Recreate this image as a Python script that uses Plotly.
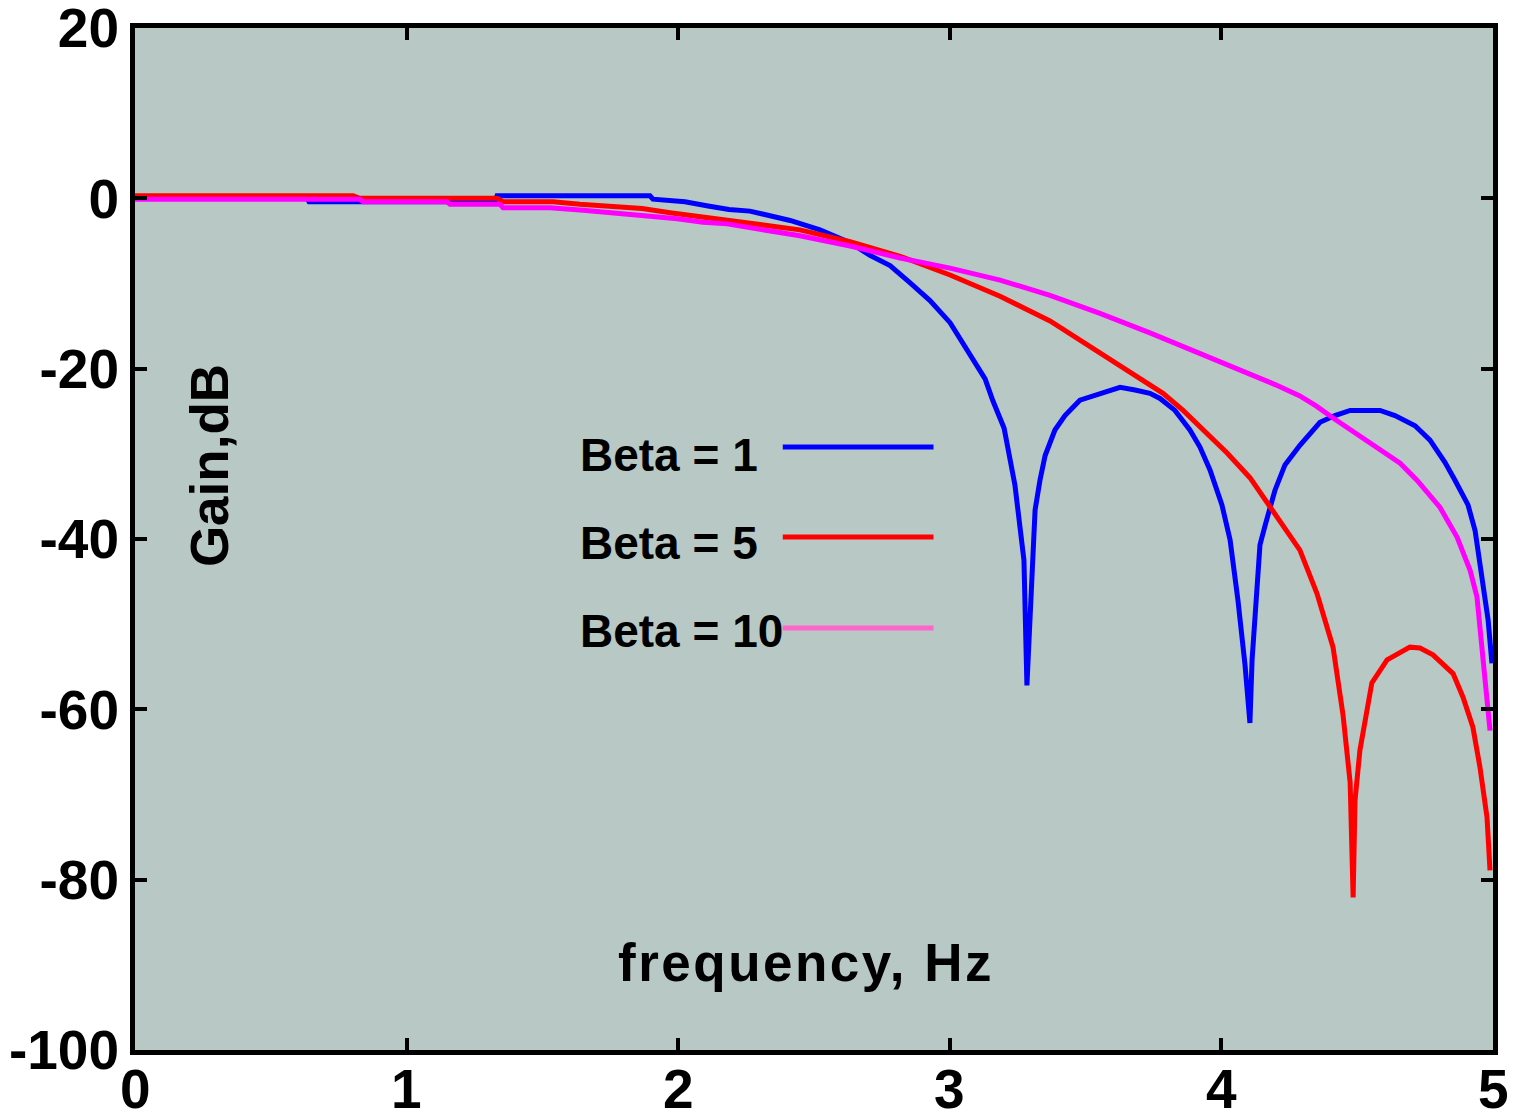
import plotly.graph_objects as go

# ---- data ----
beta1_f = [0, 0.633, 0.641, 1.325, 1.333, 1.896, 1.907, 2.025, 2.11, 2.187, 2.264, 2.301, 2.412, 2.522,
           2.633, 2.706, 2.780, 2.853, 2.927, 3.001, 3.085, 3.130, 3.159, 3.200, 3.240, 3.258, 3.273,
           3.284, 3.299, 3.314, 3.332, 3.351, 3.387, 3.424, 3.479, 3.553, 3.627, 3.682, 3.737, 3.774,
           3.829, 3.884, 3.921, 3.958, 4.002, 4.032, 4.061, 4.087, 4.105, 4.113, 4.124, 4.142, 4.161,
           4.197, 4.234, 4.289, 4.363, 4.418, 4.474, 4.584, 4.639, 4.713, 4.768, 4.823, 4.860, 4.908,
           4.934, 4.960, 4.982, 4.996]
beta1_db = [0, 0, -0.4, -0.4, 0.3, 0.3, -0.1, -0.4, -0.9, -1.3, -1.5, -1.8, -2.6, -3.7,
            -5.2, -6.7, -7.9, -9.9, -12.0, -14.6, -19.0, -21.2, -23.8, -27.0, -33.7, -38.4, -42.5,
            -57.2, -47.2, -36.6, -33.1, -30.2, -27.2, -25.5, -23.7, -22.9, -22.2, -22.5, -22.9, -23.5,
            -24.9, -27.2, -29.2, -31.9, -36.0, -40.1, -47.2, -54.8, -61.6, -54.2, -48.3, -40.7, -38.4,
            -34.3, -31.3, -29.0, -26.3, -25.5, -24.9, -24.9, -25.5, -26.7, -28.4, -31.0, -33.1, -36.0,
            -39.0, -44.3, -49.5, -54.6]

beta5_f = [0, 0.803, 0.828, 1.333, 1.355, 1.539, 1.638, 1.767, 1.867, 1.970, 2.069, 2.147, 2.228,
           2.448, 2.633, 2.817, 3.001, 3.185, 3.369, 3.590, 3.785, 3.859, 4.021, 4.105, 4.168, 4.227,
           4.289, 4.352, 4.411, 4.448, 4.474, 4.485, 4.492, 4.510, 4.536, 4.554, 4.610, 4.694, 4.731,
           4.779, 4.853, 4.890, 4.926, 4.952, 4.978, 4.989]
beta5_db = [0.3, 0.3, 0.0, 0.0, -0.4, -0.4, -0.7, -1.0, -1.2, -1.7, -2.1, -2.4, -2.8,
            -3.7, -5.1, -6.8, -9.0, -11.5, -14.4, -19.0, -22.9, -24.9, -29.9, -32.8, -35.8, -38.6,
            -41.3, -46.4, -52.7, -60.7, -68.6, -82.1, -70.7, -64.8, -60.1, -56.9, -54.2, -52.7, -52.8,
            -53.6, -55.8, -58.6, -62.1, -66.8, -72.7, -78.9]

beta10_f = [0, 0.828, 0.839, 1.149, 1.160, 1.344, 1.355, 1.528, 1.650, 1.775, 1.896, 1.996, 2.091,
            2.180, 2.264, 2.448, 2.633, 2.817, 3.001, 3.185, 3.369, 3.553, 3.737, 3.984, 4.10, 4.20,
            4.289, 4.35, 4.411, 4.536, 4.658, 4.720, 4.805, 4.868, 4.916, 4.941, 4.960, 4.978, 4.989]
beta10_db = [-0.1, -0.1, -0.4, -0.4, -0.7, -0.7, -1.1, -1.1, -1.4, -1.7, -2.1, -2.4, -2.8,
             -3.0, -3.4, -4.4, -5.6, -7.0, -8.2, -9.6, -11.4, -13.5, -15.8, -19.0, -20.6, -21.9,
             -23.2, -24.4, -25.8, -28.4, -31.1, -33.1, -36.3, -39.8, -43.7, -46.8, -52.7, -58.6, -62.5]

series_names = ["Beta = 1", "Beta = 5", "Beta = 10"]
x_ticks = [0, 1, 2, 3, 4, 5]
y_ticks = [-100, -80, -60, -40, -20, 0, 20]

FONT = "Liberation Sans, Arial, sans-serif"
BG = "#b8c8c4"

fig = go.Figure()
for fx, fy, col in [(beta1_f, beta1_db, "#0000ff"),
                    (beta5_f, beta5_db, "#ff0000"),
                    (beta10_f, beta10_db, "#ff00ff")]:
    fig.add_trace(go.Scatter(x=fx, y=fy, mode="lines",
                             line=dict(color=col, width=5), showlegend=False,
                             hoverinfo="skip"))

axis_common = dict(showgrid=False, zeroline=False, showline=True, linecolor="black",
                   linewidth=5, mirror="ticks", ticks="inside", ticklen=12, tickwidth=4,
                   tickcolor="black", automargin=False, ticklabeloverflow="allow",
                   tickfont=dict(family=FONT, size=55, color="black", weight="bold"))

# x tick labels are drawn as annotations below so they sit close to the axis
fig.update_xaxes(range=[0, 5], tickvals=x_ticks, showticklabels=False, **axis_common)
fig.update_yaxes(range=[-100, 20], tickvals=y_ticks, ticktext=[str(v) for v in y_ticks],
                 ticklabelstandoff=0, **axis_common)

annots = []
for v in x_ticks:
    annots.append(dict(text=str(v), x=v, y=-0.038, xref="x", yref="paper",
                       xanchor="center", yanchor="middle", showarrow=False,
                       font=dict(family=FONT, size=55, color="black", weight="bold")))

# axis titles drawn inside the plot
annots.append(dict(text='<span style="letter-spacing:2.5px">frequency, Hz</span>',
                   x=0.494, y=0.086, xref="paper", yref="paper",
                   xanchor="center", yanchor="middle", showarrow=False,
                   font=dict(family=FONT, size=53, color="black", weight="bold")))
annots.append(dict(text="Gain,dB", x=0.055, y=0.572, xref="paper", yref="paper",
                   xanchor="center", yanchor="middle", textangle=-90, showarrow=False,
                   font=dict(family=FONT, size=53, color="black", weight="bold")))

# legend
leg_y = [0.582, 0.496, 0.410]
leg_line_y = [0.590, 0.502, 0.413]
leg_cols = ["#0000ff", "#ff0000", "#ff66cc"]
shapes = []
for name, ty, ly, c in zip(series_names, leg_y, leg_line_y, leg_cols):
    annots.append(dict(text=name, x=0.326, y=ty, xref="paper", yref="paper",
                       xanchor="left", yanchor="middle", showarrow=False,
                       font=dict(family=FONT, size=46, color="black", weight="bold")))
    shapes.append(dict(type="line", xref="paper", yref="paper", x0=0.477, x1=0.588,
                       y0=ly, y1=ly, line=dict(color=c, width=5)))

# page body has an 8px default margin, so size the figure to compensate
fig.update_layout(width=1510, height=1106,
                  margin=dict(l=127, r=25, t=20, b=64),
                  paper_bgcolor="white", plot_bgcolor=BG,
                  annotations=annots, shapes=shapes, showlegend=False)

fig.write_html("out.html")
